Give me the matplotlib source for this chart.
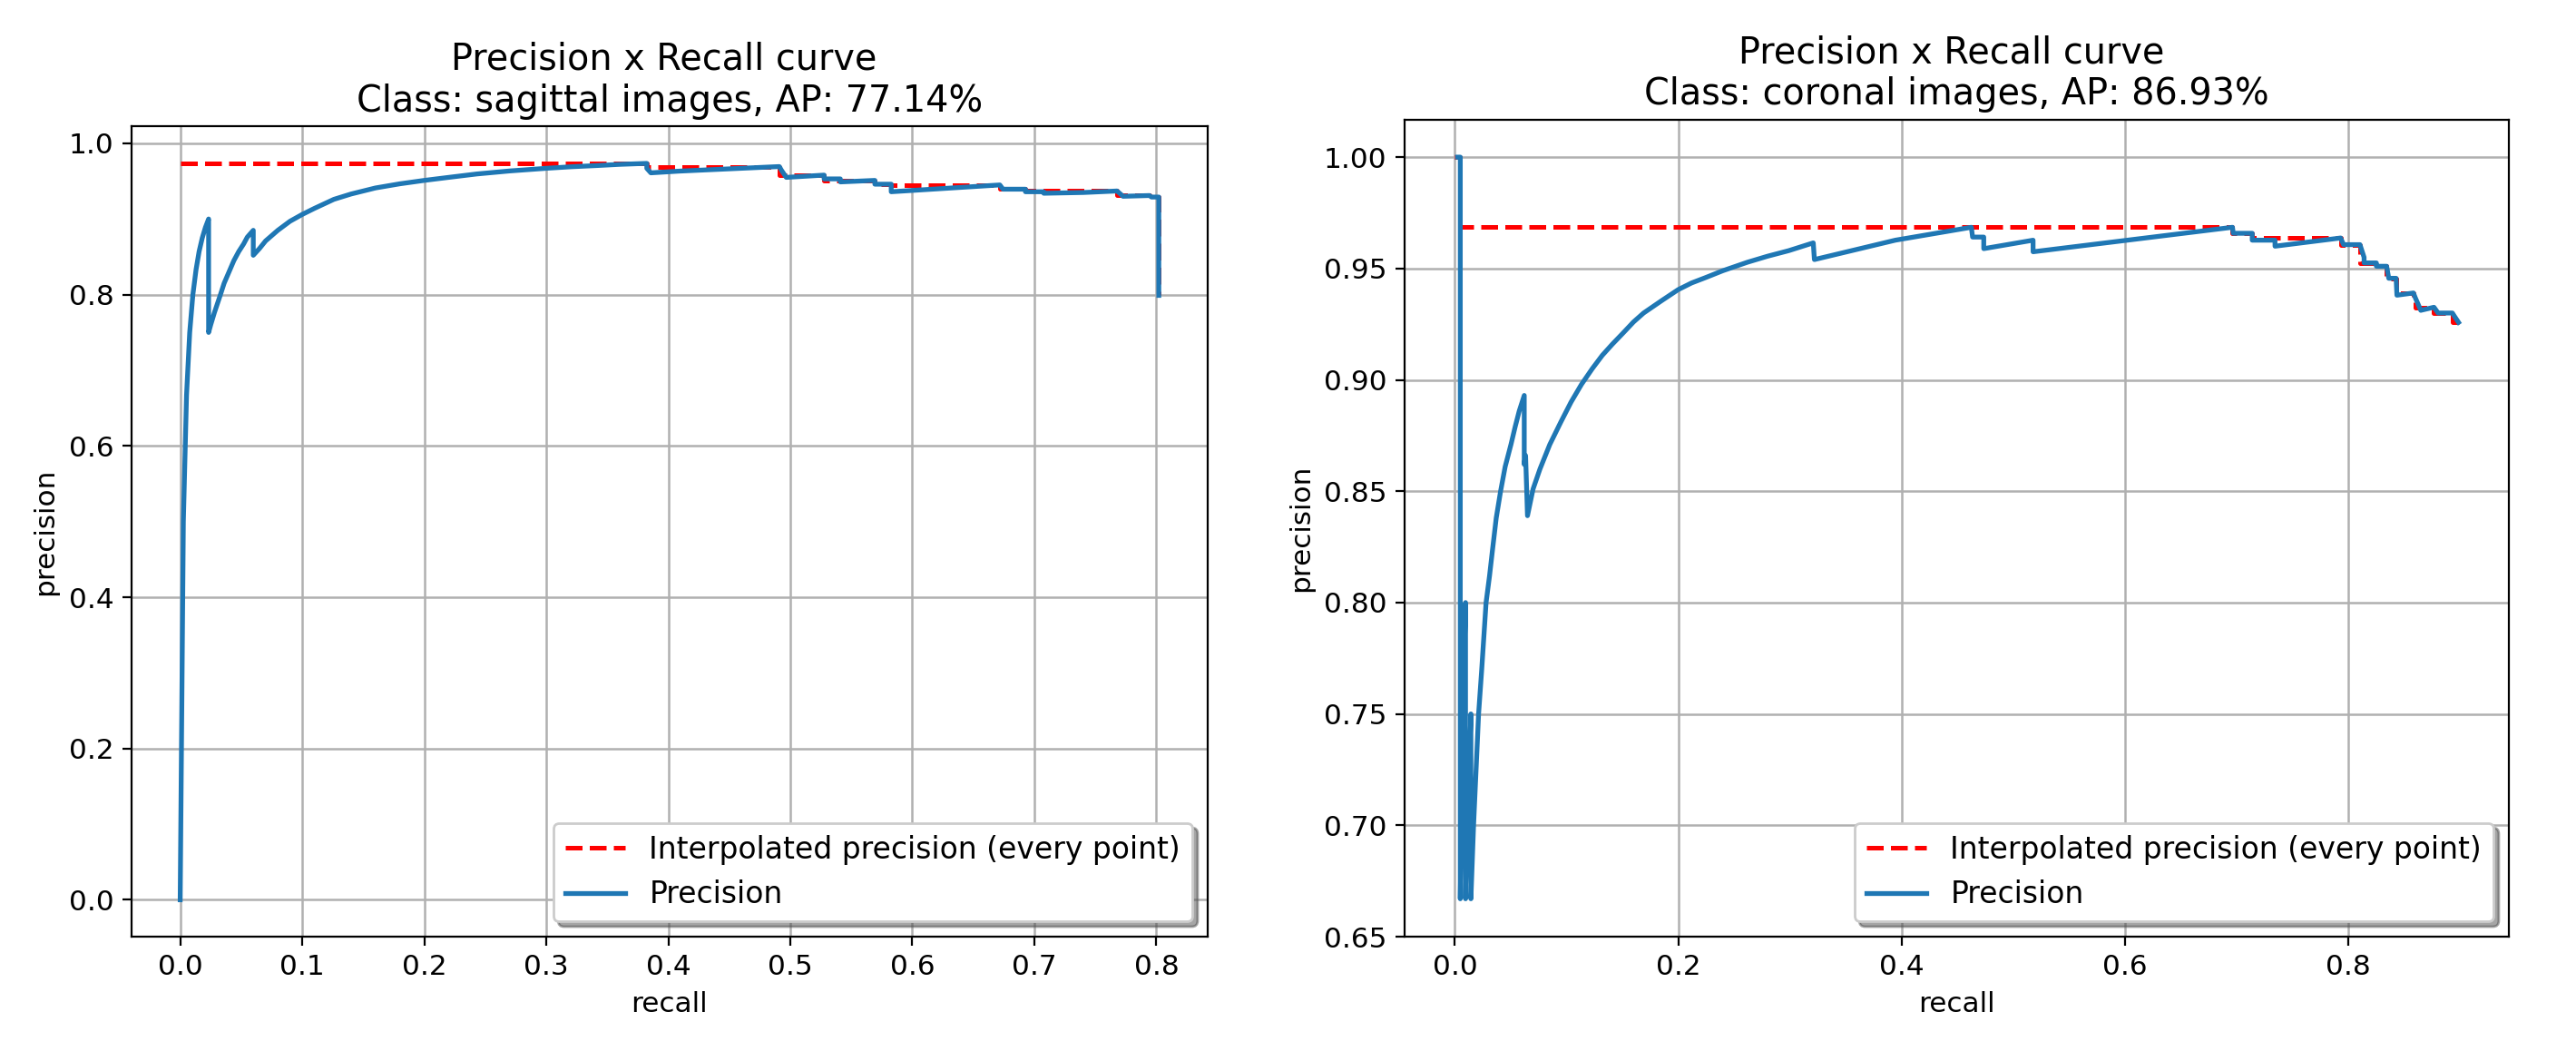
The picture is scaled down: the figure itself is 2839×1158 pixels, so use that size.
import matplotlib
matplotlib.use('Agg')
import matplotlib.pyplot as plt

# ---------------- data: sagittal ----------------
sag_recall = [0.0, 0.0026, 0.0052, 0.0078, 0.0104, 0.013, 0.0155, 0.0181, 0.0207, 0.0233,
              0.0233, 0.025, 0.028, 0.033, 0.036, 0.040, 0.044, 0.048, 0.052, 0.055, 0.0599, 0.0599,
              0.065, 0.070, 0.080, 0.090, 0.100, 0.110, 0.126, 0.140, 0.160, 0.180, 0.200, 0.220,
              0.243, 0.270, 0.300, 0.320, 0.3425, 0.360, 0.3824,
              0.3824, 0.3857, 0.4093, 0.491, 0.4927, 0.4967, 0.5277, 0.5277, 0.541, 0.541,
              0.5693, 0.5693, 0.5827, 0.5827, 0.6717, 0.6743, 0.6927, 0.6927, 0.7077, 0.7077,
              0.740, 0.7677, 0.7727, 0.7943, 0.796, 0.802, 0.802]
sag_precision = [0.0, 0.50, 0.667, 0.75, 0.80, 0.833, 0.857, 0.875, 0.889, 0.90,
                 0.75, 0.76, 0.776, 0.80, 0.815, 0.83, 0.845, 0.857, 0.867, 0.876, 0.885, 0.852,
                 0.861, 0.871, 0.885, 0.897, 0.906, 0.914, 0.926, 0.933, 0.941, 0.9465, 0.951, 0.955,
                 0.9595, 0.9635, 0.967, 0.969, 0.9707, 0.9722, 0.9735,
                 0.967, 0.961, 0.9633, 0.9693, 0.9645, 0.955, 0.958, 0.953, 0.953, 0.949,
                 0.951, 0.946, 0.946, 0.936, 0.945, 0.9394, 0.9394, 0.936, 0.936, 0.934,
                 0.935, 0.937, 0.930, 0.931, 0.929, 0.929, 0.799]
sag_interp_recall = [0.0, 0.3824, 0.3824, 0.491, 0.491, 0.5277, 0.5277, 0.5693, 0.5693,
                     0.5827, 0.5827, 0.6717, 0.6717, 0.6927, 0.6927, 0.7677, 0.7677,
                     0.7943, 0.7943, 0.802, 0.802]
sag_interp_precision = [0.9735, 0.9735, 0.9693, 0.9693, 0.958, 0.958, 0.951, 0.951, 0.946,
                        0.946, 0.945, 0.945, 0.9394, 0.9394, 0.937, 0.937, 0.931,
                        0.931, 0.929, 0.929, 0.799]
sag_title = 'Precision x Recall curve \nClass: sagittal images, AP: 77.14%'

# ---------------- data: coronal ----------------
cor_recall = [0.0024, 0.0048, 0.0048, 0.0072, 0.0095, 0.0095, 0.0119, 0.0143, 0.0143,
              0.0167, 0.0185, 0.0212, 0.024, 0.0279, 0.031, 0.0335, 0.037, 0.0409, 0.045,
              0.0502, 0.054, 0.0576, 0.0621, 0.0621,
              0.0633, 0.065, 0.070, 0.0762, 0.085, 0.0948, 0.104, 0.1134, 0.123, 0.132, 0.141,
              0.1506, 0.160, 0.169, 0.185, 0.200, 0.212, 0.225, 0.240,
              0.262, 0.280, 0.299, 0.321, 0.322, 0.3945, 0.4626, 0.4637, 0.4737, 0.4737, 0.5179,
              0.5179, 0.6965, 0.6972, 0.7142, 0.7142, 0.7346, 0.7346, 0.7934, 0.796,
              0.8107, 0.8144, 0.8144, 0.8254, 0.8254, 0.8346, 0.8365, 0.8431, 0.8438,
              0.8586, 0.8604, 0.8652, 0.877, 0.8807, 0.8935, 0.8954, 0.899]
cor_precision = [1.0, 1.0, 0.667, 0.75, 0.80, 0.667, 0.714, 0.75, 0.667,
                 0.70, 0.72, 0.75, 0.77, 0.80, 0.812, 0.823, 0.838, 0.85, 0.861,
                 0.871, 0.879, 0.886, 0.893, 0.862,
                 0.866, 0.839, 0.851, 0.860, 0.871, 0.881, 0.890, 0.898, 0.905, 0.911, 0.916,
                 0.921, 0.926, 0.930, 0.9355, 0.9405, 0.9435, 0.946, 0.949,
                 0.9528, 0.9555, 0.958, 0.9615, 0.954, 0.9627, 0.9685, 0.9641, 0.9641, 0.9589, 0.9627,
                 0.9575, 0.9685, 0.9658, 0.9658, 0.9627, 0.9627, 0.960, 0.9637, 0.9607,
                 0.9607, 0.955, 0.9525, 0.9525, 0.951, 0.951, 0.9456, 0.9456, 0.938,
                 0.939, 0.9367, 0.9312, 0.9326, 0.930, 0.930, 0.9285, 0.9258]
cor_interp_recall = [0.0, 0.0048, 0.0048, 0.6965, 0.6965, 0.7142, 0.7142, 0.7934, 0.7934,
                     0.8107, 0.8107, 0.8254, 0.8254, 0.8346, 0.8346, 0.8431, 0.8431,
                     0.8586, 0.8586, 0.8604, 0.8604, 0.877, 0.877, 0.8935, 0.8935, 0.899]
cor_interp_precision = [1.0, 1.0, 0.9685, 0.9685, 0.9658, 0.9658, 0.9637, 0.9637, 0.9607,
                        0.9607, 0.9525, 0.9525, 0.951, 0.951, 0.9456, 0.9456, 0.939,
                        0.939, 0.9367, 0.9367, 0.9326, 0.9326, 0.930, 0.930, 0.9258, 0.9258]
cor_title = 'Precision x Recall curve \nClass: coronal images, AP: 86.93%'

sag_xticks = [0.0, 0.1, 0.2, 0.3, 0.4, 0.5, 0.6, 0.7, 0.8]
sag_yticks = [0.0, 0.2, 0.4, 0.6, 0.8, 1.0]
cor_xticks = [0.0, 0.2, 0.4, 0.6, 0.8]
cor_yticks = [0.65, 0.70, 0.75, 0.80, 0.85, 0.90, 0.95, 1.00]

plt.rcParams['font.family'] = ['DejaVu Sans']
DPI = 200
fig = plt.figure(figsize=(2839 / DPI, 1158 / DPI), dpi=DPI)

ax1 = fig.add_axes([0.051, 0.1088, 0.4178, 0.7708])
ax2 = fig.add_axes([0.5453, 0.1088, 0.4286, 0.7771])

FS_TICK = 11.2
FS_LABEL = 11.2
FS_LEG = 11.9
FS_TITLE = 14.3

def draw(ax, ir, ip, r, p, title, xt, yt, yfmt):
    ax.plot(ir, ip, '--r', label='Interpolated precision (every point)', lw=1.8)
    ax.plot(r, p, color='#1f77b4', label='Precision', lw=1.9)
    ax.set_xlabel('recall', fontsize=FS_LABEL)
    ax.set_ylabel('precision', fontsize=FS_LABEL)
    ax.set_title(title, fontsize=FS_TITLE)
    ax.set_xticks(xt)
    ax.set_xticklabels(['%.1f' % v for v in xt], fontsize=FS_TICK)
    ax.set_yticks(yt)
    ax.set_yticklabels([yfmt % v for v in yt], fontsize=FS_TICK)
    ax.grid(True, color='#b0b0b0', lw=0.9)
    ax.legend(loc='lower right', shadow=True, fontsize=FS_LEG)

draw(ax1, sag_interp_recall, sag_interp_precision, sag_recall, sag_precision,
     sag_title, sag_xticks, sag_yticks, '%.1f')
ax1.set_xlim(-0.04, 0.842)
ax1.set_ylim(-0.0487, 1.0222)

draw(ax2, cor_interp_recall, cor_interp_precision, cor_recall, cor_precision,
     cor_title, cor_xticks, cor_yticks, '%.2f')
ax2.set_xlim(-0.045, 0.944)
ax2.set_ylim(0.65, 1.0167)

fig.savefig('out.png', dpi=DPI)
